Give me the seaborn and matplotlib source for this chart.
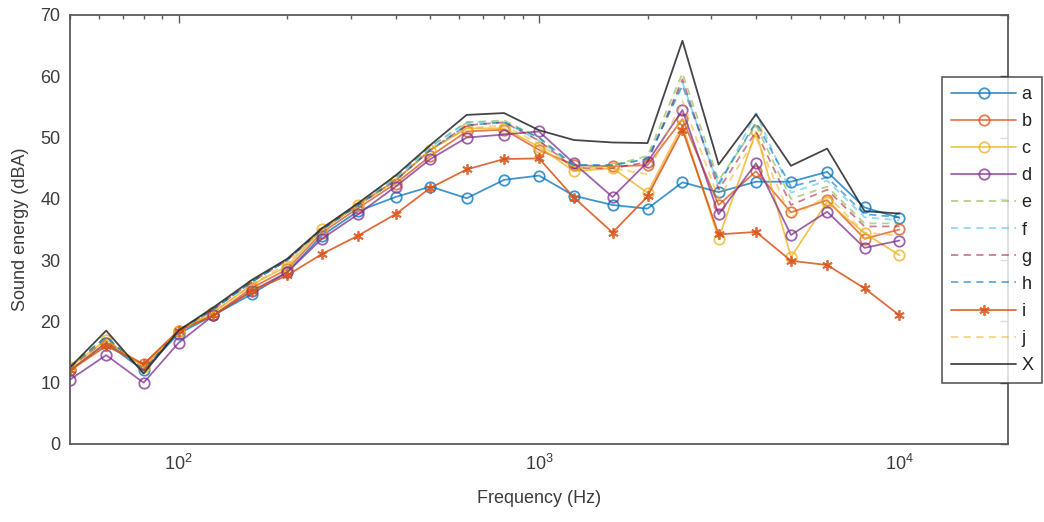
import matplotlib
matplotlib.use("Agg")
import matplotlib.pyplot as plt
import seaborn as sns
import numpy as np
import pandas as pd
from matplotlib.ticker import LogLocator, NullFormatter, FixedLocator

freq = [50, 63, 80, 100, 125, 160, 200, 250, 315, 400, 500, 630, 800, 1000,
        1250, 1600, 2000, 2500, 3150, 4000, 5000, 6300, 8000, 10000]

a = [12.0, 16.5, 12.0, 18.0, 21.0, 24.5, 28.0, 34.0, 38.0, 40.3, 42.0, 40.1, 43.1, 43.8,
     40.5, 39.0, 38.4, 42.7, 41.1, 42.8, 42.8, 44.4, 38.6, 36.9]
b = [12.0, 16.5, 13.0, 18.5, 21.0, 25.5, 28.5, 34.5, 38.5, 42.5, 47.0, 51.0, 51.3, 48.0,
     45.5, 45.3, 45.5, 53.0, 39.0, 44.5, 37.8, 39.8, 33.5, 35.0]
c = [12.5, 17.0, 12.5, 18.5, 21.5, 26.0, 29.0, 35.0, 39.0, 43.0, 48.0, 51.5, 51.5, 48.5,
     44.5, 45.0, 41.0, 52.0, 33.5, 51.0, 30.5, 39.5, 34.4, 30.8]
d = [10.5, 14.5, 10.0, 16.5, 21.0, 25.0, 28.0, 33.5, 37.5, 42.0, 46.5, 50.0, 50.5, 51.0,
     45.8, 40.3, 46.0, 54.5, 37.5, 45.8, 34.1, 37.9, 32.0, 33.2]
e = [12.8, 17.5, 12.0, 18.5, 22.0, 26.5, 30.0, 35.0, 39.0, 43.5, 48.5, 52.5, 52.8, 50.0,
     45.0, 45.5, 47.0, 60.5, 43.0, 52.0, 40.0, 42.0, 36.0, 36.0]
f = [12.5, 17.5, 12.0, 18.5, 22.0, 26.5, 30.0, 35.0, 39.0, 43.5, 48.5, 52.5, 52.5, 49.5,
     45.5, 45.5, 46.5, 59.0, 42.0, 54.0, 41.0, 43.0, 37.0, 36.5]
g = [12.5, 17.0, 12.0, 18.5, 22.0, 26.5, 30.0, 35.0, 39.0, 43.0, 48.0, 52.0, 52.5, 49.5,
     45.0, 45.0, 46.0, 59.5, 41.5, 51.0, 39.0, 41.5, 35.5, 35.5]
h = [12.5, 17.5, 12.0, 18.5, 22.0, 26.5, 30.0, 35.0, 39.0, 43.0, 48.0, 52.0, 52.5, 50.0,
     45.5, 45.5, 46.5, 58.5, 42.5, 52.5, 42.0, 43.5, 37.5, 37.0]
i = [12.0, 16.0, 13.0, 18.5, 21.0, 25.0, 27.5, 31.0, 34.0, 37.5, 41.8, 44.8, 46.5, 46.6,
     40.2, 34.5, 40.4, 51.3, 34.2, 34.6, 29.9, 29.2, 25.4, 21.0]
j = [12.5, 17.0, 12.5, 18.5, 21.5, 26.0, 29.5, 35.0, 39.0, 43.0, 48.0, 51.5, 52.0, 49.0,
     45.0, 45.0, 44.0, 56.0, 40.0, 50.0, 37.0, 40.5, 34.5, 34.0]
X = [12.5, 18.5, 11.5, 18.5, 22.3, 26.8, 30.2, 35.2, 39.3, 43.8, 48.8, 53.7, 54.0, 51.2,
     49.6, 49.2, 49.1, 65.8, 45.6, 53.8, 45.4, 48.2, 38.0, 37.6]

labels = ["a", "b", "c", "d", "e", "f", "g", "h", "i", "j", "X"]
series = [a, b, c, d, e, f, g, h, i, j, X]

colors = ["#0072BD", "#D95319", "#EDB120", "#7E2F8E", "#77AC30", "#4DBEEE",
          "#A2142F", "#0072BD", "#D95319", "#EDB120", "#262626"]
styles = [
    dict(marker="o", linestyle="-"),
    dict(marker="o", linestyle="-"),
    dict(marker="o", linestyle="-"),
    dict(marker="o", linestyle="-"),
    dict(marker=None, linestyle="--"),
    dict(marker=None, linestyle="--"),
    dict(marker=None, linestyle="--"),
    dict(marker=None, linestyle="--"),
    dict(marker=(6, 2, 0), linestyle="-"),
    dict(marker=None, linestyle="--"),
    dict(marker=None, linestyle="-"),
]
alphas = [0.75, 0.75, 0.75, 0.75, 0.55, 0.6, 0.55, 0.6, 0.85, 0.55, 0.85]

sns.set_theme(style="white")
plt.rcParams["font.family"] = ["Liberation Sans", "DejaVu Sans"]

fig = plt.figure(figsize=(10.44, 5.22), dpi=100)
ax = fig.add_axes([70 / 1044, 78 / 522, (1008 - 70) / 1044, (444 - 15) / 522])

for lab, vals, col, st, al in zip(labels, series, colors, styles, alphas):
    kw = dict(color=col, linewidth=1.3, alpha=al)
    if st["marker"] is not None:
        kw.update(marker=st["marker"], markersize=7.5, markerfacecolor="none",
                  markeredgecolor=col, markeredgewidth=1.3)
    if st["linestyle"] == "--":
        kw["dashes"] = (4, 3)
    else:
        kw["linestyle"] = "-"
    sns.lineplot(x=freq, y=vals, ax=ax, label=lab, errorbar=None, sort=False, **kw)

ax.set_xscale("log")
ax.set_xlim(50, 20000)
ax.set_ylim(0, 70)
ax.set_yticks(range(0, 71, 10))
ax.xaxis.set_major_locator(FixedLocator([100, 1000, 10000]))
ax.xaxis.set_minor_locator(LogLocator(base=10, subs=np.arange(2, 10)))
ax.xaxis.set_minor_formatter(NullFormatter())

spine_col = "#5a5a5a"
for s in ax.spines.values():
    s.set_color(spine_col)
    s.set_linewidth(1.3)
ax.tick_params(axis="both", which="both", direction="in", top=True, right=True,
               colors=spine_col, labelcolor="#3c3c3c", labelsize=13)
ax.tick_params(which="major", length=6, width=1, pad=7)
ax.tick_params(which="minor", length=3, width=1)

ax.set_xlabel("Frequency (Hz)", fontsize=13, color="#3c3c3c", labelpad=12)
ax.set_ylabel("Sound energy (dBA)", fontsize=13, color="#3c3c3c", labelpad=8)

leg = ax.legend(loc="upper left", bbox_to_anchor=(942 / 1044, 1 - 77 / 522),
                bbox_transform=fig.transFigure, frameon=True, fancybox=False,
                fontsize=13, handlelength=3.6, labelspacing=0.56, borderpad=0.5,
                handletextpad=0.3, borderaxespad=0)
leg.get_frame().set_edgecolor("#333333")
leg.get_frame().set_linewidth(1.2)
for t in leg.get_texts():
    t.set_color("#222222")

fig.savefig("out.png", dpi=100)
